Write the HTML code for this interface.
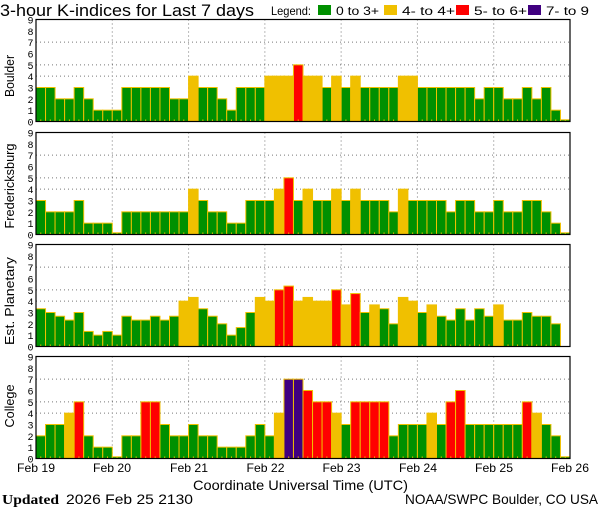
<!DOCTYPE html>
<html><head><meta charset="utf-8"><style>
html,body{margin:0;padding:0;background:#fff;}
svg{display:block;}
text{font-family:"Liberation Sans",sans-serif;fill:#000;}
.t{font-size:10px;font-family:"Liberation Mono",monospace;}
</style></head><body>
<svg id="s" width="600" height="510" viewBox="0 0 600 510" xmlns="http://www.w3.org/2000/svg">
<rect width="600" height="510" fill="#fff"/>
<text x="0" y="16" font-size="17" textLength="254" lengthAdjust="spacingAndGlyphs">3-hour K-indices for Last 7 days</text>
<text x="271" y="15" font-size="12" textLength="40" lengthAdjust="spacingAndGlyphs">Legend:</text>
<rect x="318" y="5" width="13" height="10" fill="#009000"/>
<text x="336" y="15" font-size="12" textLength="43" lengthAdjust="spacingAndGlyphs">0 to 3+</text>
<rect x="384" y="5" width="13" height="10" fill="#f0c000"/>
<text x="402" y="15" font-size="12" textLength="53" lengthAdjust="spacingAndGlyphs">4- to 4+</text>
<rect x="456" y="5" width="13" height="10" fill="#ff0000"/>
<text x="474" y="15" font-size="12" textLength="53" lengthAdjust="spacingAndGlyphs">5- to 6+</text>
<rect x="528" y="5" width="13" height="10" fill="#400080"/>
<text x="546" y="15" font-size="12" textLength="43" lengthAdjust="spacingAndGlyphs">7- to 9</text>
<g id="panels"></g>
<text transform="translate(14,76) rotate(-90)" text-anchor="middle" font-size="13" textLength="42" lengthAdjust="spacingAndGlyphs">Boulder</text>
<text transform="translate(14,186) rotate(-90)" text-anchor="middle" font-size="13" textLength="85" lengthAdjust="spacingAndGlyphs">Fredericksburg</text>
<text transform="translate(14,301) rotate(-90)" text-anchor="middle" font-size="13" textLength="88" lengthAdjust="spacingAndGlyphs">Est. Planetary</text>
<text transform="translate(14,406) rotate(-90)" text-anchor="middle" font-size="13" textLength="43" lengthAdjust="spacingAndGlyphs">College</text>
<text x="36" y="472" text-anchor="middle" font-size="12" textLength="38" lengthAdjust="spacingAndGlyphs">Feb 19</text>
<text x="112" y="472" text-anchor="middle" font-size="12" textLength="38" lengthAdjust="spacingAndGlyphs">Feb 20</text>
<text x="189" y="472" text-anchor="middle" font-size="12" textLength="38" lengthAdjust="spacingAndGlyphs">Feb 21</text>
<text x="265.5" y="472" text-anchor="middle" font-size="12" textLength="38" lengthAdjust="spacingAndGlyphs">Feb 22</text>
<text x="341.5" y="472" text-anchor="middle" font-size="12" textLength="38" lengthAdjust="spacingAndGlyphs">Feb 23</text>
<text x="418" y="472" text-anchor="middle" font-size="12" textLength="38" lengthAdjust="spacingAndGlyphs">Feb 24</text>
<text x="494" y="472" text-anchor="middle" font-size="12" textLength="38" lengthAdjust="spacingAndGlyphs">Feb 25</text>
<text x="570" y="472" text-anchor="middle" font-size="12" textLength="38" lengthAdjust="spacingAndGlyphs">Feb 26</text>
<text x="193" y="490" font-size="14" textLength="215" lengthAdjust="spacingAndGlyphs">Coordinate Universal Time (UTC)</text>
<text x="2" y="504" font-size="14" font-weight="bold" style="font-family:'Liberation Serif',serif" textLength="57" lengthAdjust="spacingAndGlyphs">Updated</text>
<text x="66" y="504" font-size="14" textLength="127" lengthAdjust="spacingAndGlyphs">2026 Feb 25 2130</text>
<text x="405" y="504" font-size="14" textLength="193" lengthAdjust="spacingAndGlyphs">NOAA/SWPC Boulder, CO USA</text>
</svg>
<script>
var data=[
[3,3,2,2,3,2,1,1, 1,3,3,3,3,3,2,2, 4,3,3,2,1,3,3,3, 4,4,4,5,4,4,3,4, 3,4,3,3,3,3,4,4, 3,3,3,3,3,3,2,3, 3,2,2,3,2,3,1,0.15],
[3,2,2,2,3,1,1,1, 0.15,2,2,2,2,2,2,2, 4,3,2,2,1,1,3,3, 3,4,5,3,4,3,3,4, 3,4,3,3,3,2,4,3, 3,3,3,2,3,3,2,2, 3,2,2,3,3,2,1,0.15],
[3.33,3,2.67,2.33,3,1.33,1,1.33, 1,2.67,2.33,2.33,2.67,2.33,2.67,4, 4.33,3.33,2.67,2,1,1.67,3,4.33, 4,5,5.33,4,4.33,4,4,5, 3.67,4.67,3,3.67,3.33,2,4.33,4, 3,3.67,2.67,2.33,3.33,2.33,3.33,2.67, 3.67,2.33,2.33,3,2.67,2.67,2,null],
[2,3,3,4,5,2,1,1, 0.15,2,2,5,5,3,2,2, 3,2,2,1,1,1,2,3, 2,4,7,7,6,5,5,4, 3,5,5,5,5,2,3,3, 3,4,3,5,6,3,3,3, 3,3,3,5,4,3,2,0.15]
];
var tops=[19.5,132.5,244.5,356.5],U=11.333,L=36,R=570,W=(R-L)/56;
var s='';
function col(v){return v<3.5?'#009000':v<4.5?'#f0c000':v<6.5?'#ff0000':'#400080';}
for(var p=0;p<4;p++){
 var t=tops[p],b=t+9*U;
 [4,5,7].forEach(function(k){var y=b-k*U;s+='<line x1="'+L+'" y1="'+y+'" x2="'+R+'" y2="'+y+'" stroke="#777" stroke-dasharray="1,3"/>';});
 for(var d=1;d<7;d++){var x=L+d*(R-L)/7;s+='<line x1="'+x+'" y1="'+t+'" x2="'+x+'" y2="'+b+'" stroke="#777" stroke-dasharray="1,3"/>';}
 for(var i=0;i<56;i++){var v=data[p][i];if(v==null)continue;var x=L+i*W,h=v*U;
  s+='<rect x="'+x.toFixed(2)+'" y="'+(b-h).toFixed(2)+'" width="'+W.toFixed(2)+'" height="'+h.toFixed(2)+'" fill="'+col(v)+'" stroke="#f0c000" stroke-width="1"/>';
  s+='<rect x="'+(x+W/2-0.5).toFixed(2)+'" y="'+(b-2)+'" width="1" height="2" fill="#f0c000"/>';}
 s+='<rect x="'+L+'" y="'+t+'" width="'+(R-L)+'" height="'+(9*U)+'" fill="none" stroke="#000" stroke-width="1.2"/>';
 for(var k=0;k<=9;k++){s+='<text class="t" x="30.5" y="'+(b-k*U+4)+'" text-anchor="middle">'+k+'</text>';}
}
document.getElementById('panels').innerHTML=s;
</script>
</body></html>
